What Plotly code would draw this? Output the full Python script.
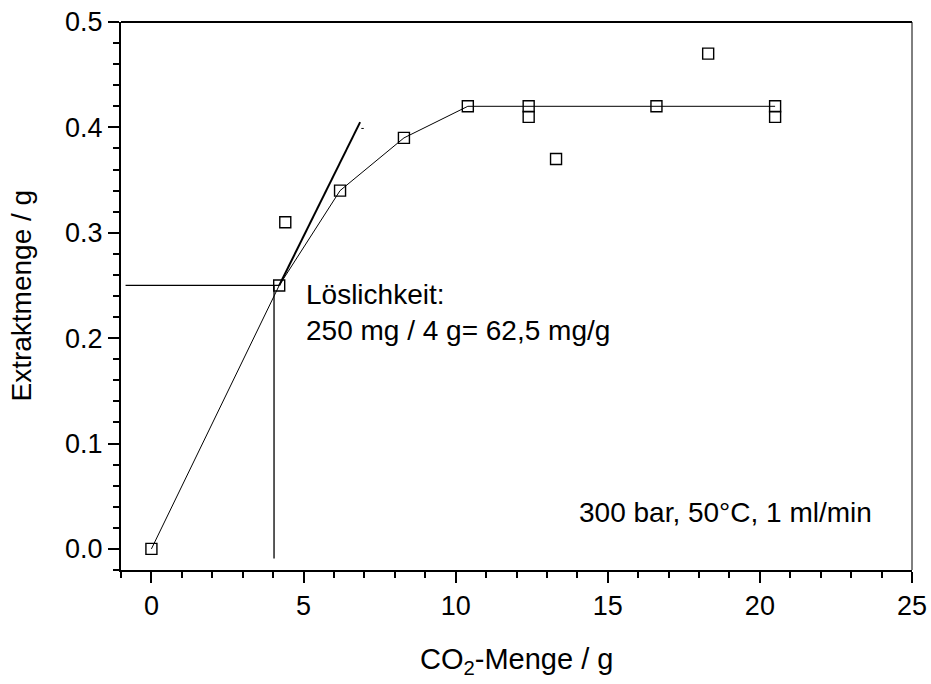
import plotly.graph_objects as go

# Extraction curve: CO2 amount vs. extracted mass
co2_menge = [0, 4.2, 4.4, 6.2, 8.3, 10.4, 12.4, 12.4, 13.3, 16.6, 18.3, 20.5, 20.5]
extrakt = [0.0, 0.25, 0.31, 0.34, 0.39, 0.42, 0.42, 0.41, 0.37, 0.42, 0.47, 0.42, 0.41]

# points joined by the guide curve
kurve_x = [0, 4.2, 6.2, 8.3, 10.4, 12.4, 16.6, 20.5]
kurve_y = [0.0, 0.25, 0.34, 0.39, 0.42, 0.42, 0.42, 0.42]

# initial slope (tangent) and solubility read-off lines
tangente_x = [4.2, 6.86]
tangente_y = [0.25, 0.405]
strich_x = [6.9, 6.98]
strich_y = [0.399, 0.399]
horiz_x = [-0.85, 4.2]
horiz_y = [0.25, 0.25]
vert_x = [4.03, 4.03]
vert_y = [0.25, -0.009]

FONT = "Liberation Sans, Arial, sans-serif"
FS = 28
TICK_FS = 27

fig = go.Figure()
fig.add_trace(go.Scatter(x=kurve_x, y=kurve_y, mode="lines",
                         line=dict(color="black", width=1), hoverinfo="skip"))
fig.add_trace(go.Scatter(x=tangente_x, y=tangente_y, mode="lines",
                         line=dict(color="black", width=2), hoverinfo="skip"))
fig.add_trace(go.Scatter(x=strich_x, y=strich_y, mode="lines",
                         line=dict(color="black", width=1), hoverinfo="skip"))
fig.add_trace(go.Scatter(x=horiz_x, y=horiz_y, mode="lines",
                         line=dict(color="black", width=1.3), hoverinfo="skip"))
fig.add_trace(go.Scatter(x=vert_x, y=vert_y, mode="lines",
                         line=dict(color="black", width=1.3), hoverinfo="skip"))
fig.add_trace(go.Scatter(x=co2_menge, y=extrakt, mode="markers",
                         marker=dict(symbol="square-open", size=11, color="black",
                                     line=dict(width=1.4, color="black"))))

fig.add_annotation(x=5.0, y=0.241, text="Löslichkeit:", showarrow=False,
                   xanchor="left", yanchor="middle", font=dict(size=FS))
fig.add_annotation(x=5.0, y=0.207, text="250 mg / 4 g= 62,5 mg/g", showarrow=False,
                   xanchor="left", yanchor="middle", font=dict(size=FS))
fig.add_annotation(x=14.0, y=0.035, text="300 bar, 50°C, 1 ml/min", showarrow=False,
                   xanchor="left", yanchor="middle", font=dict(size=FS))

# axis titles
fig.add_annotation(x=0.5, y=-0.166, xref="paper", yref="paper",
                   text="CO<sub>2</sub>-Menge / g", showarrow=False,
                   xanchor="center", yanchor="middle", font=dict(size=FS + 1))
fig.add_annotation(x=-0.127, y=0.5, xref="paper", yref="paper",
                   text="Extraktmenge / g", showarrow=False, textangle=-90,
                   xanchor="center", yanchor="middle", font=dict(size=FS))

# frame: thick top edge, thin right edge
fig.add_shape(type="line", xref="paper", yref="paper", x0=0, x1=1, y0=1, y1=1,
              line=dict(color="black", width=2))
fig.add_shape(type="line", xref="paper", yref="paper", x0=1, x1=1, y0=0, y1=1,
              line=dict(color="black", width=1))

axis_common = dict(showgrid=False, zeroline=False, showline=True, linecolor="black",
                   linewidth=2, ticks="outside", ticklen=11, tickwidth=2,
                   tickcolor="black", tickfont=dict(size=TICK_FS), automargin=False)

fig.update_xaxes(range=[-1, 25], dtick=5, tick0=0,
                 minor=dict(dtick=1, ticks="outside", ticklen=6, tickwidth=2,
                            tickcolor="black"),
                 **axis_common)
fig.update_yaxes(range=[-0.02, 0.5], dtick=0.1, tick0=0, tickformat=".1f",
                 minor=dict(dtick=0.02, ticks="outside", ticklen=6, tickwidth=2,
                            tickcolor="black"),
                 **axis_common)

fig.update_layout(width=931, height=684, showlegend=False,
                  plot_bgcolor="white", paper_bgcolor="white",
                  margin=dict(l=121, r=19, t=22, b=114),
                  font=dict(family=FONT, color="black", size=FS))

fig.write_html("out.html")
